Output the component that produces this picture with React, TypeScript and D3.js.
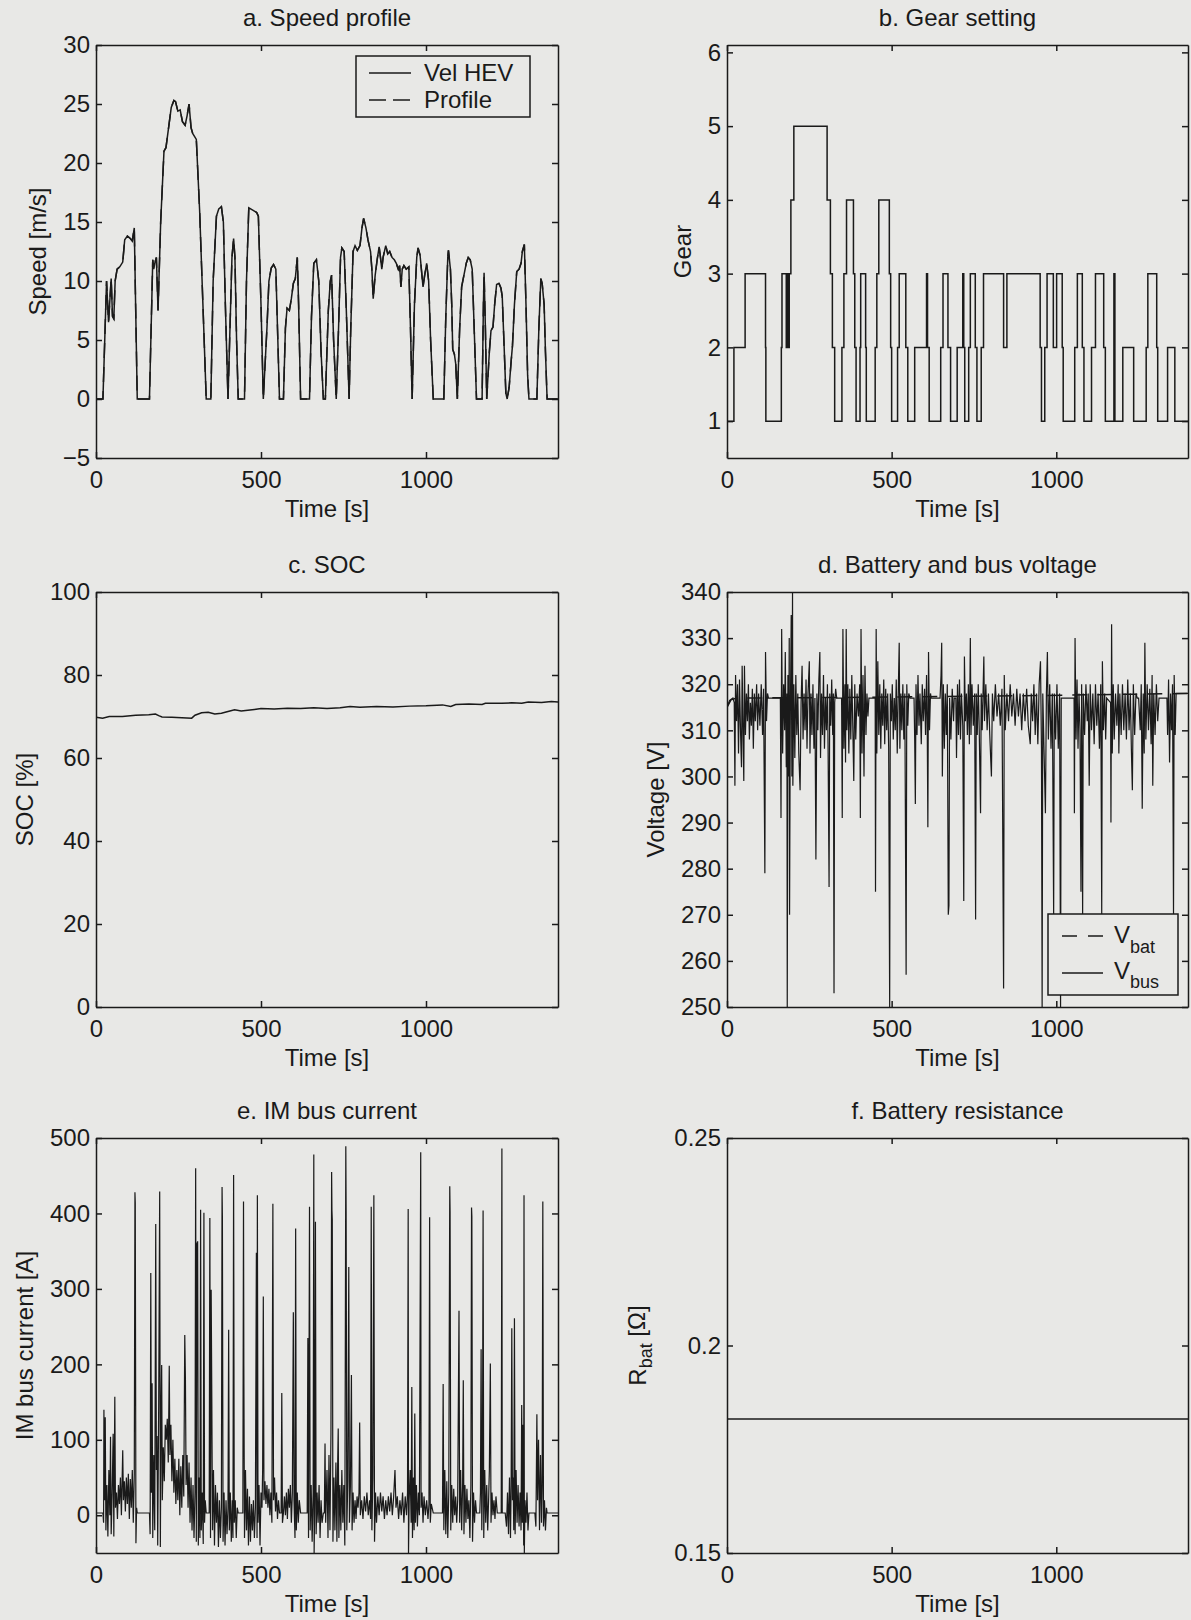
import React, { useEffect, useRef } from "react";
import * as d3 from "d3";

type Pt = [number, number];

// ---- data ----
const timeTicks = [0, 500, 1000];
const timeMax = 1400;

const speedTicks = [-5, 0, 5, 10, 15, 20, 25, 30];
const speedHev: Pt[] = [
  [0,0],[21,0],[32,10],[38,6.5],[46,10.2],[50,7],[54,6.8],[58,10],[64,11],[72,11.2],[81,11.6],[87,13.5],[95,13.8],[104,13.6],[110,13.4],[116,14.5],[125,0],[162,0],
  [172,11.8],[175,11],[178,11.5],[183,12],[188,7.5],[196,15],[206,21],[212,21.3],[220,23],[228,24.7],[236,25.3],[241,25.2],[248,24.4],[255,24.5],[262,23.5],[270,23.2],[276,24],[282,25],[288,23],[293,22.5],[304,22],[314,16],[324,8],[334,0],[348,0],
  [355,10],[365,15.5],[372,16.1],[380,16.3],[386,15],[392,8],[400,0],[405,5],[412,12],[417,13.6],[421,12],[426,5],[431,0],[450,0],[456,10],[463,16.2],[475,16],[487,15.8],[492,15.5],[500,8],[507,0],
  [518,6],[524,10],[531,11.1],[538,11.4],[545,11],[550,6],[556,0],[568,0],[574,6],[579,7.7],[586,7.5],[592,8.5],[598,9.8],[604,10.2],[610,12],[614,8],[620,0],[647,0],
  [653,7],[660,11.5],[668,11.8],[675,10],[682,4],[689,0],[695,0],[704,7.5],[710,10],[714,10.5],[720,5],[728,0],[735,6],[741,12],[745,12.8],[752,12.5],[758,8],[767,0],
  [772,6],[779,12.5],[785,13],[792,12.6],[800,13],[806,14.5],[811,15.3],[818,14.5],[824,13.5],[828,13],[832,12.5],[836,11],[840,8.5],[846,10.5],[852,11.8],[858,12.9],[862,12],[866,11],[870,12],[878,13],[884,12.3],[890,12.5],[897,12],[904,11.8],[910,11.5],[916,11],[920,11.3],[924,9.5],[928,11],[933,11.3],[940,11],[948,11.2],[953,6],[958,0],
  [965,8],[972,12],[976,12.8],[982,12.2],[986,11],[991,9.5],[996,10.5],[1002,11.5],[1008,10],[1014,5],[1022,0],[1054,0],
  [1060,7],[1066,12],[1068,12.6],[1074,11],[1078,8],[1081,4.2],[1086,3.8],[1090,3],[1095,0],[1102,6],[1108,9.5],[1115,10.5],[1122,11.5],[1128,12],[1134,11.8],[1140,11],[1146,6],[1153,0],[1170,0],
  [1174,8],[1176,10.7],[1180,6],[1184,0],[1192,4],[1197,5.8],[1203,6.1],[1208,8],[1214,9.7],[1221,9.8],[1227,9.4],[1231,8.7],[1236,5],[1242,0.5],[1246,0],
  [1252,1],[1258,3.2],[1262,4.5],[1268,8],[1275,10.8],[1282,11],[1288,11.5],[1292,12.5],[1298,13.1],[1303,8],[1308,2],[1312,0],[1336,0],
  [1342,6],[1348,10.2],[1352,9.8],[1358,8],[1362,4],[1367,0],[1400,0],
];

const gearTicks = [1, 2, 3, 4, 5, 6];
const gear: Pt[] = [
  [0,1],[21,2],[55,3],[117,2],[118,1],[165,2],[167,3],[180,2],[183,3],[186,2],[189,3],[194,4],[203,5],[304,4],[314,3],[320,2],[327,1],
  [349,2],[355,3],[363,4],[384,3],[388,2],[392,1],[404,2],[406,3],[421,2],[423,1],[450,2],[455,3],[461,4],[493,3],[497,2],[500,1],
  [518,2],[523,3],[543,2],[549,1],[570,2],[606,3],[609,2],[614,1],[649,2],[656,3],[671,2],[679,1],[699,2],[716,3],[719,2],[722,1],
  [734,2],[739,3],[754,2],[759,1],[772,2],[779,3],[840,2],[850,3],[951,2],[955,1],[965,2],[972,3],[991,2],[1001,3],[1018,2],[1021,1],
  [1056,2],[1064,3],[1079,2],[1084,1],[1107,2],[1119,3],[1144,2],[1149,1],[1175,3],[1178,1],[1202,2],[1235,1],[1273,2],[1278,3],
  [1305,2],[1308,1],[1338,2],[1360,1],[1400,1],
];

const socTicks = [0, 20, 40, 60, 80, 100];
const soc: Pt[] = [
  [0,69.8],[20,69.6],[40,70],[80,70],[120,70.3],[160,70.4],[180,70.6],[190,70.2],[200,69.9],[230,69.8],[260,69.7],[290,69.6],[300,70.3],[320,70.9],[340,71],[360,70.6],[380,70.8],[400,71.2],
  [420,71.6],[440,71.3],[460,71.5],[480,71.7],[500,71.9],[540,71.8],[580,72],[620,71.9],[660,72.1],[700,71.9],[740,72.1],[770,72.4],[800,72.2],[850,72.4],[900,72.3],[950,72.5],
  [1000,72.6],[1050,72.8],[1075,72.4],[1090,72.9],[1130,73],[1170,72.9],[1180,73.2],[1230,73.2],[1260,73.3],[1290,73.2],[1310,73.5],[1350,73.4],[1380,73.6],[1400,73.5],
];

const voltTicks = [250, 260, 270, 280, 290, 300, 310, 320, 330, 340];
const vBat: Pt[] = [[0,315],[12,316.6],[30,317],[300,317.1],[600,317.3],[900,317.5],[1200,317.8],[1400,318]];
const vBus: Pt[] = [
  [0,315],[8,316.5],[18,317],[22,316],[24,298],[26,322],[29,312],[32,320],[35,305],[38,321],[41,310],[44,302],[46,324],[48,313],[51,299],[53,324],[56,309],[59,318],[62,312],[65,320],[68,308],[71,316],[74,311],[77,319],[80,306],[83,318],[86,312],[90,320],[93,310],[96,318],[100,311],[104,320],[108,309],[111,319],[115,279],[117,327],[120,312],[123,318],[126,317],[162,317],
  [164,291],[166,332],[169,305],[172,320],[175,310],[177,327],[180,302],[182,318],[183,250],[185,322],[187,300],[189,330],[190,270],[192,310],[195,335],[197,300],[199,340],[200,298],[203,320],[206,304],[209,322],[212,309],[215,318],[218,305],[222,297],[225,316],[228,324],[231,308],[234,318],[237,310],[240,321],[243,306],[246,318],[250,325],[252,305],[255,318],[258,309],[261,320],[264,306],[267,317],[270,282],[273,318],[276,310],[279,321],[282,327],[284,304],[287,318],[290,309],[293,322],[296,306],[299,317],[302,310],[305,320],[307,306],[310,276],[312,318],[315,311],[318,321],[321,309],[323,318],[325,253],[327,316],[330,319],[333,317],[348,317],
  [350,291],[352,332],[355,306],[358,320],[360,303],[362,332],[364,310],[367,320],[370,305],[373,319],[376,308],[379,322],[382,311],[385,299],[388,320],[391,308],[395,318],[399,313],[403,320],[405,291],[407,332],[410,305],[413,322],[416,300],[419,324],[422,309],[425,318],[428,313],[431,317],[450,317],
  [451,275],[453,332],[455,305],[458,325],[461,309],[464,320],[467,306],[470,318],[473,311],[476,321],[479,307],[482,319],[485,310],[488,318],[491,306],[494,250],[496,318],[499,312],[502,320],[505,308],[508,317],[511,310],[514,321],[517,305],[520,318],[523,329],[525,306],[528,318],[531,310],[534,320],[537,308],[540,318],[544,257],[546,320],[549,311],[552,318],[556,317],[568,317],
  [570,308],[572,294],[574,320],[577,309],[580,322],[583,311],[586,318],[590,307],[593,320],[596,312],[600,319],[603,309],[606,322],[608,312],[610,289],[612,327],[615,310],[618,318],[620,317],[647,317],
  [650,322],[652,329],[654,300],[657,320],[660,306],[663,318],[666,309],[669,320],[672,270],[674,272],[676,317],[680,308],[684,319],[688,312],[690,317],[695,317],
  [697,304],[700,320],[703,309],[706,321],[709,308],[712,318],[716,311],[719,273],[721,326],[724,312],[727,318],[730,309],[733,320],[736,307],[739,330],[741,309],[744,320],[748,311],[752,318],[755,269],[757,318],[760,309],[763,320],[766,310],
  [770,292],[772,318],[775,310],[780,326],[782,312],[786,320],[790,310],[794,318],[798,309],[803,300],[806,318],[810,312],[815,320],[820,313],[825,318],[830,311],[835,319],[840,254],[842,322],[845,310],[850,318],[855,312],[860,320],[865,313],[870,318],[875,311],[880,319],[885,313],[890,318],[895,310],[900,318],[905,312],[910,319],[915,311],[921,307],[924,318],[928,312],[932,320],[936,309],[940,318],[944,307],[948,320],[952,325],[955,306],[957,250],[959,318],
  [963,305],[967,292],[970,318],[973,327],[976,308],[980,320],[984,306],[988,318],[992,270],[994,318],[998,308],[1002,320],[1006,306],[1010,318],[1013,250],[1015,317],[1022,317],[1054,317],
  [1055,292],[1057,330],[1060,308],[1063,321],[1066,306],[1069,318],[1072,310],[1075,275],[1077,320],[1080,270],[1082,318],[1086,309],[1090,320],[1094,312],[1097,318],[1100,298],[1103,320],[1107,310],[1111,318],[1115,307],[1119,320],[1123,311],[1127,318],[1131,306],[1135,320],[1138,270],[1140,325],[1143,310],[1147,318],[1150,308],[1153,317],[1165,316],
  [1166,290],[1168,333],[1170,305],[1173,320],[1176,308],[1180,318],[1184,311],[1188,320],[1190,305],[1193,318],[1197,309],[1201,320],[1205,310],[1209,318],[1213,308],[1217,321],[1221,310],[1225,318],[1228,306],[1231,297],[1234,320],[1238,309],[1242,318],[1246,317],[1250,317],
  [1255,310],[1258,320],[1261,293],[1264,318],[1267,305],[1269,329],[1272,308],[1276,320],[1280,310],[1284,319],[1288,307],[1291,322],[1293,298],[1296,318],[1300,309],[1304,320],[1308,312],[1312,317],[1336,317],
  [1338,309],[1341,321],[1344,303],[1347,318],[1350,310],[1353,320],[1356,270],[1358,322],[1361,309],[1364,318],[1367,318],[1400,318],
];

const currentTicks = [0, 100, 200, 300, 400, 500];
const imCurrent: Pt[] = [
  [0,3],[21,3],[23,-10],[24,140],[26,20],[28,130],[30,-20],[33,40],[36,-28],[39,60],[42,0],[44,104],[46,-25],[49,30],[52,108],[54,-28],[57,157],[59,10],[62,30],[65,-5],[68,40],[71,15],[74,50],[77,0],[81,86],[83,20],[86,45],[89,5],[92,50],[95,15],[98,55],[101,-5],[104,48],[107,10],[110,60],[113,-10],[116,55],[118,428],[119,414],[121,-37],[123,10],[125,3],[162,3],
  [164,-25],[166,321],[168,30],[170,175],[172,-30],[175,80],[178,-20],[181,386],[183,60],[185,105],[187,-40],[190,150],[193,429],[195,-42],[197,130],[199,199],[201,20],[204,90],[207,45],[210,120],[213,100],[216,128],[219,70],[222,198],[224,80],[227,120],[230,45],[233,100],[236,30],[239,75],[242,15],[245,60],[248,20],[251,75],[254,0],[257,65],[260,10],[263,80],[266,25],[269,239],[271,180],[273,40],[276,80],[279,10],[282,70],[285,-10],[288,50],[291,-20],[294,40],[297,-30],[300,30],[302,460],[304,-35],[306,360],[308,363],[310,-40],[313,50],[315,-30],[317,405],[319,-20],[322,30],[325,-38],[327,401],[329,-10],[331,20],[334,3],[343,3],
  [345,394],[347,-30],[349,299],[351,150],[353,-20],[356,60],[359,-40],[362,40],[365,-10],[368,30],[371,-42],[374,20],[377,-30],[380,10],[382,435],[383,396],[385,-35],[388,30],[391,-40],[394,20],[397,-25],[400,10],[402,246],[404,-20],[407,30],[410,-35],[413,20],[415,-30],[417,451],[419,-10],[422,20],[425,-30],[428,10],[431,3],[445,3],
  [447,416],[448,198],[450,-30],[453,60],[456,-20],[459,35],[462,-40],[465,25],[468,-35],[471,15],[474,-20],[477,20],[480,-30],[483,10],[486,348],[488,-30],[489,424],[491,-10],[494,40],[497,-40],[500,30],[503,10],[505,60],[507,290],[509,20],[512,45],[515,15],[518,40],[521,10],[524,35],[527,0],[530,30],[533,-10],[536,413],[538,20],[541,50],[544,5],[547,30],[550,-5],[553,20],[556,3],[561,3],
  [563,162],[565,-10],[568,3],[571,25],[574,0],[577,30],[580,-5],[583,35],[586,10],[589,40],[592,-10],[595,30],[598,269],[600,20],[603,-30],[605,380],[607,-20],[610,30],[613,-10],[616,20],[620,3],[640,3],
  [642,235],[644,-30],[647,409],[649,-20],[652,40],[655,-35],[658,30],[660,478],[661,-50],[663,20],[665,389],[667,-25],[670,30],[673,-10],[676,40],[679,-30],[682,20],[685,-10],[689,3],[692,3],
  [694,95],[696,-10],[700,60],[703,-30],[706,80],[709,-20],[712,110],[714,455],[715,404],[716,392],[718,-35],[721,50],[724,-20],[727,70],[730,-35],[732,60],[734,115],[736,-30],[739,40],[742,-20],[745,60],[748,-10],[751,40],[754,-40],[757,489],[758,402],[760,-20],[763,45],[766,329],[768,-10],[771,40],[774,186],[776,-20],[779,30],[782,-10],[785,20],[788,-5],[791,25],[794,10],[797,30],[799,123],[801,0],
  [805,20],[809,-5],[813,25],[817,5],[821,30],[825,0],[829,20],[832,-5],[834,409],[836,-20],[839,50],[842,424],[844,-35],[847,30],[850,-10],[854,25],[858,0],[862,30],[866,5],[870,25],[874,-5],[878,20],[882,0],[886,25],[890,5],[894,30],[898,0],[902,25],[906,60],[909,10],[913,25],[917,-5],[921,20],[925,0],[929,30],[933,-10],[937,25],[941,0],[944,30],[946,406],[947,-50],[949,20],[952,60],[955,-10],[957,170],[959,-30],
  [962,50],[964,-20],[966,135],[968,-10],[971,40],[974,-15],[977,30],[980,0],[984,481],[985,10],[988,30],[991,-10],[994,25],[998,0],[1002,20],[1006,-5],[1009,15],[1011,395],[1013,-10],[1016,15],[1022,3],[1050,3],
  [1052,174],[1054,-20],[1057,60],[1060,-25],[1063,45],[1066,-30],[1069,30],[1072,436],[1073,402],[1075,-20],[1078,40],[1081,-10],[1084,35],[1087,0],[1090,25],[1093,-10],[1096,20],[1100,271],[1102,-10],[1105,60],[1108,-20],[1111,40],[1113,179],[1115,-25],[1118,40],[1121,-10],[1124,35],[1127,-5],[1130,20],[1133,-30],[1136,40],[1138,408],[1139,396],[1141,-35],[1144,30],[1147,-10],[1150,20],[1153,3],[1163,3],
  [1165,30],[1167,220],[1169,-20],[1171,40],[1173,404],[1175,-30],[1178,60],[1181,-10],[1184,40],[1187,-20],[1190,25],[1192,60],[1195,201],[1197,-10],[1200,30],[1203,0],[1206,20],[1209,-5],[1212,25],[1216,3],[1228,3],[1230,486],[1231,3],[1240,3],
  [1244,-15],[1247,30],[1250,-25],[1253,50],[1256,-30],[1258,40],[1260,248],[1262,20],[1264,50],[1266,-20],[1268,261],[1270,-25],[1273,60],[1276,-10],[1279,40],[1282,-15],[1285,30],[1288,-20],[1290,146],[1292,-10],[1294,120],[1296,-40],[1297,424],[1298,-50],[1300,20],[1303,-10],[1306,30],[1309,-20],[1312,3],[1330,3],
  [1333,-15],[1336,134],[1338,20],[1341,100],[1344,-20],[1347,80],[1350,-10],[1352,40],[1354,416],[1356,-15],[1359,20],[1362,-20],[1365,10],[1367,3],[1400,3],
];

const resTicks = [0.15, 0.2, 0.25];
const rBat: Pt[] = [[0,0.1823],[1400,0.1823]];

// ---- layout ----
const W = 1191;
const H = 1620;
const FONT = "'Liberation Sans', Arial, Helvetica, sans-serif";
const FS = 24;
const SUB = 18;
const INK = "#1a1a1a";
const PAPER = "#e8e8e6";

const colX = [96, 727];
const colW = [462, 461];
const rowY = [45, 592, 1138];
const rowH = [413, 415, 415];

interface Panel {
  col: number;
  row: number;
  title: string;
  domain: [number, number];
  ticks: number[];
  labelX: number;
  label: (t: d3.Selection<SVGTextElement, unknown, null, undefined>) => void;
  series: { data: Pt[]; dash?: string; step?: boolean; width?: number }[];
}

const panels: Panel[] = [
  {
    col: 0, row: 0, title: "a. Speed profile", domain: [-5, 30], ticks: speedTicks, labelX: 38,
    label: (t) => t.text("Speed [m/s]"),
    series: [{ data: speedHev }, { data: speedHev, dash: "15,9" }],
  },
  {
    col: 1, row: 0, title: "b. Gear setting", domain: [0.5, 6.1], ticks: gearTicks, labelX: 683,
    label: (t) => t.text("Gear"),
    series: [{ data: gear, step: true }],
  },
  {
    col: 0, row: 1, title: "c. SOC", domain: [0, 100], ticks: socTicks, labelX: 25,
    label: (t) => t.text("SOC [%]"),
    series: [{ data: soc }],
  },
  {
    col: 1, row: 1, title: "d. Battery and bus voltage", domain: [250, 340], ticks: voltTicks, labelX: 656,
    label: (t) => t.text("Voltage [V]"),
    series: [{ data: vBat, dash: "15,10" }, { data: vBus, width: 1.2 }],
  },
  {
    col: 0, row: 2, title: "e. IM bus current", domain: [-50, 500], ticks: currentTicks, labelX: 25,
    label: (t) => t.text("IM bus current [A]"),
    series: [{ data: imCurrent, width: 1.2 }],
  },
  {
    col: 1, row: 2, title: "f. Battery resistance", domain: [0.15, 0.25], ticks: resTicks, labelX: 638,
    label: (t) => {
      t.append("tspan").text("R");
      t.append("tspan").attr("dy", "0.3em").attr("font-size", SUB).text("bat");
      t.append("tspan").attr("dy", "-0.3em").text(" [Ω]");
    },
    series: [{ data: rBat }],
  },
];

export default function App() {
  const ref = useRef<SVGSVGElement>(null);

  useEffect(() => {
    const svg = d3.select(ref.current);
    svg.selectAll("*").remove();
    svg.append("rect").attr("width", W).attr("height", H).attr("fill", PAPER);

    panels.forEach((p, i) => {
      const px = colX[p.col];
      const py = rowY[p.row];
      const w = colW[p.col];
      const h = rowH[p.row];
      const x = d3.scaleLinear().domain([0, timeMax]).range([0, w]);
      const y = d3.scaleLinear().domain(p.domain).range([h, 0]);
      const g = svg.append("g").attr("transform", `translate(${px},${py})`);

      g.append("clipPath").attr("id", "clip" + i)
        .append("rect").attr("width", w).attr("height", h);

      const plot = g.append("g").attr("clip-path", `url(#clip${i})`);
      p.series.forEach((s) => {
        const line = d3.line<Pt>().x((d) => x(d[0])).y((d) => y(d[1]));
        if (s.step) line.curve(d3.curveStepAfter);
        plot.append("path")
          .attr("d", line(s.data))
          .attr("fill", "none")
          .attr("stroke", INK)
          .attr("stroke-width", s.width ?? 1.5)
          .attr("stroke-dasharray", s.dash ?? null);
      });

      const fmt = d3.format("");
      const axes = [
        g.append("g").attr("transform", `translate(0,${h})`)
          .call(d3.axisBottom(x).tickValues(timeTicks).tickSizeInner(-6).tickSizeOuter(0).tickPadding(13).tickFormat(fmt as any)),
        g.append("g")
          .call(d3.axisTop(x).tickValues(timeTicks).tickSizeInner(-6).tickSizeOuter(0).tickFormat(() => "")),
        g.append("g")
          .call(d3.axisLeft(y).tickValues(p.ticks).tickSizeInner(-6).tickSizeOuter(0).tickPadding(6).tickFormat(fmt as any)),
        g.append("g").attr("transform", `translate(${w},0)`)
          .call(d3.axisRight(y).tickValues(p.ticks).tickSizeInner(-6).tickSizeOuter(0).tickFormat(() => "")),
      ];
      axes.forEach((a) => {
        a.attr("font-family", FONT).attr("font-size", FS);
        a.selectAll("path, line").attr("stroke", INK).attr("stroke-width", 1.5);
        a.selectAll("text").attr("fill", INK);
      });

      g.append("text")
        .attr("x", w / 2).attr("y", -19)
        .attr("text-anchor", "middle")
        .attr("font-family", FONT).attr("font-size", FS).attr("fill", INK)
        .text(p.title);

      g.append("text")
        .attr("x", w / 2).attr("y", h + 59)
        .attr("text-anchor", "middle")
        .attr("font-family", FONT).attr("font-size", FS).attr("fill", INK)
        .text("Time [s]");

      const yl = svg.append("text")
        .attr("transform", `translate(${p.labelX},${py + h / 2}) rotate(-90)`)
        .attr("text-anchor", "middle")
        .attr("dy", "0.35em")
        .attr("font-family", FONT).attr("font-size", FS).attr("fill", INK);
      p.label(yl);
    });

    // legend a
    const la = svg.append("g");
    la.append("rect").attr("x", 356).attr("y", 56).attr("width", 174).attr("height", 61)
      .attr("fill", PAPER).attr("stroke", INK).attr("stroke-width", 1.5);
    la.append("line").attr("x1", 369).attr("x2", 411).attr("y1", 73).attr("y2", 73)
      .attr("stroke", INK).attr("stroke-width", 1.5);
    la.append("line").attr("x1", 369).attr("x2", 411).attr("y1", 100).attr("y2", 100)
      .attr("stroke", INK).attr("stroke-width", 1.5).attr("stroke-dasharray", "17,7");
    la.append("text").attr("x", 424).attr("y", 81).text("Vel HEV");
    la.append("text").attr("x", 424).attr("y", 108).text("Profile");
    la.selectAll("text").attr("font-family", FONT).attr("font-size", FS).attr("fill", INK);

    // legend d
    const ld = svg.append("g");
    ld.append("rect").attr("x", 1048).attr("y", 914).attr("width", 130).attr("height", 81)
      .attr("fill", PAPER).attr("stroke", INK).attr("stroke-width", 1.5);
    ld.append("line").attr("x1", 1062).attr("x2", 1103).attr("y1", 936).attr("y2", 936)
      .attr("stroke", INK).attr("stroke-width", 1.5).attr("stroke-dasharray", "15,11");
    ld.append("line").attr("x1", 1062).attr("x2", 1103).attr("y1", 973).attr("y2", 973)
      .attr("stroke", INK).attr("stroke-width", 1.5);
    const t1 = ld.append("text").attr("x", 1114).attr("y", 943)
      .attr("font-family", FONT).attr("font-size", FS).attr("fill", INK);
    t1.append("tspan").text("V");
    t1.append("tspan").attr("dy", 10).attr("font-size", SUB).text("bat");
    const t2 = ld.append("text").attr("x", 1114).attr("y", 979)
      .attr("font-family", FONT).attr("font-size", FS).attr("fill", INK);
    t2.append("tspan").text("V");
    t2.append("tspan").attr("dy", 9).attr("font-size", SUB).text("bus");
  }, []);

  return (
    <svg
      ref={ref}
      width={W}
      height={H}
      style={{ position: "absolute", left: 0, top: 0 }}
    />
  );
}
